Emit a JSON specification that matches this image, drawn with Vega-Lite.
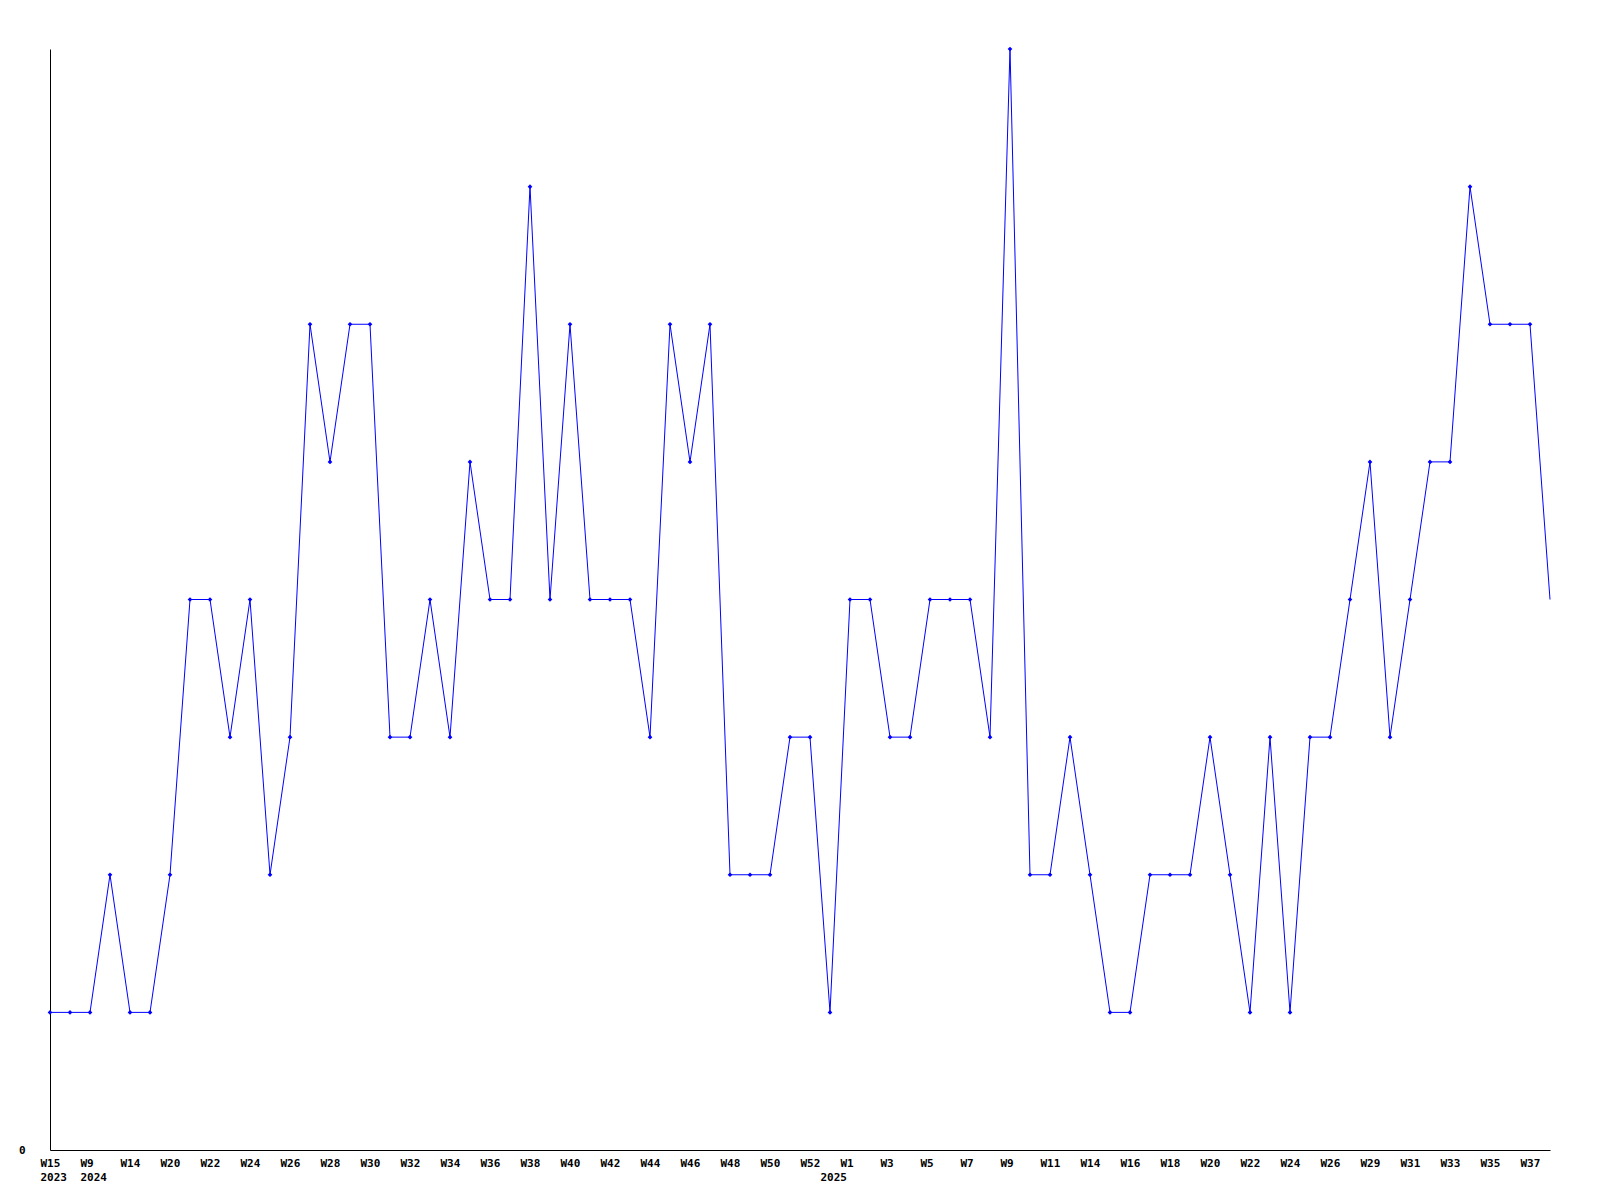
{
  "$schema": "https://vega.github.io/schema/vega-lite/v6.json",
  "autosize": {"type": "none"},
  "padding": {"left": 50, "top": 49, "right": 50, "bottom": 50},
  "width": 1500,
  "height": 1101,
  "background": "white",
  "config": {
    "view": {"stroke": null},
    "axis": {"labelFont": "DejaVu Sans Mono", "labelFontWeight": "bold", "labelFontSize": 11, "labelColor": "black", "domainColor": "black", "domainWidth": 1, "grid": false, "ticks": false}
  },
  "data": {"values": [
    {"k": "2023 W15", "v": 1}, {"k": "2023 W16", "v": 1}, {"k": "2024 W9", "v": 1}, {"k": "2024 W11", "v": 2},
    {"k": "2024 W14", "v": 1}, {"k": "2024 W17", "v": 1}, {"k": "2024 W20", "v": 2}, {"k": "2024 W21", "v": 4},
    {"k": "2024 W22", "v": 4}, {"k": "2024 W23", "v": 3}, {"k": "2024 W24", "v": 4}, {"k": "2024 W25", "v": 2},
    {"k": "2024 W26", "v": 3}, {"k": "2024 W27", "v": 6}, {"k": "2024 W28", "v": 5}, {"k": "2024 W29", "v": 6},
    {"k": "2024 W30", "v": 6}, {"k": "2024 W31", "v": 3}, {"k": "2024 W32", "v": 3}, {"k": "2024 W33", "v": 4},
    {"k": "2024 W34", "v": 3}, {"k": "2024 W35", "v": 5}, {"k": "2024 W36", "v": 4}, {"k": "2024 W37", "v": 4},
    {"k": "2024 W38", "v": 7}, {"k": "2024 W39", "v": 4}, {"k": "2024 W40", "v": 6}, {"k": "2024 W41", "v": 4},
    {"k": "2024 W42", "v": 4}, {"k": "2024 W43", "v": 4}, {"k": "2024 W44", "v": 3}, {"k": "2024 W45", "v": 6},
    {"k": "2024 W46", "v": 5}, {"k": "2024 W47", "v": 6}, {"k": "2024 W48", "v": 2}, {"k": "2024 W49", "v": 2},
    {"k": "2024 W50", "v": 2}, {"k": "2024 W51", "v": 3}, {"k": "2024 W52", "v": 3}, {"k": "2025 W0", "v": 1},
    {"k": "2025 W1", "v": 4}, {"k": "2025 W2", "v": 4}, {"k": "2025 W3", "v": 3}, {"k": "2025 W4", "v": 3},
    {"k": "2025 W5", "v": 4}, {"k": "2025 W6", "v": 4}, {"k": "2025 W7", "v": 4}, {"k": "2025 W8", "v": 3},
    {"k": "2025 W9", "v": 8}, {"k": "2025 W10", "v": 2}, {"k": "2025 W11", "v": 2}, {"k": "2025 W12", "v": 3},
    {"k": "2025 W14", "v": 2}, {"k": "2025 W15", "v": 1}, {"k": "2025 W16", "v": 1}, {"k": "2025 W17", "v": 2},
    {"k": "2025 W18", "v": 2}, {"k": "2025 W19", "v": 2}, {"k": "2025 W20", "v": 3}, {"k": "2025 W21", "v": 2},
    {"k": "2025 W22", "v": 1}, {"k": "2025 W23", "v": 3}, {"k": "2025 W24", "v": 1}, {"k": "2025 W25", "v": 3},
    {"k": "2025 W26", "v": 3}, {"k": "2025 W27", "v": 4}, {"k": "2025 W29", "v": 5}, {"k": "2025 W30", "v": 3},
    {"k": "2025 W31", "v": 4}, {"k": "2025 W32", "v": 5}, {"k": "2025 W33", "v": 5}, {"k": "2025 W34", "v": 7},
    {"k": "2025 W35", "v": 6}, {"k": "2025 W36", "v": 6}, {"k": "2025 W37", "v": 6}, {"k": "2025 W38", "v": 4}
  ]},
  "encoding": {
    "x": {
      "field": "k", "type": "ordinal", "sort": null,
      "scale": {"type": "point", "padding": 0},
      "axis": {
        "title": null, "labelAngle": 0, "labelOverlap": false, "labelPadding": 7, "labelLineHeight": 14,
        "labelBaseline": "top", "labelAlign": "left", "labelOffset": -10,
        "values": ["2023 W15", "2024 W9", "2024 W14", "2024 W20", "2024 W22", "2024 W24", "2024 W26", "2024 W28", "2024 W30", "2024 W32", "2024 W34", "2024 W36", "2024 W38", "2024 W40", "2024 W42", "2024 W44", "2024 W46", "2024 W48", "2024 W50", "2024 W52", "2025 W0", "2025 W1", "2025 W3", "2025 W5", "2025 W7", "2025 W9", "2025 W11", "2025 W14", "2025 W16", "2025 W18", "2025 W20", "2025 W22", "2025 W24", "2025 W26", "2025 W29", "2025 W31", "2025 W33", "2025 W35", "2025 W37"],
        "labelExpr": "datum.label == '2025 W0' ? ['', '2025'] : indexof(['2023 W15','2024 W9'], datum.label) >= 0 ? [slice(datum.label, 5), slice(datum.label, 0, 4)] : slice(datum.label, 5)"
      }
    },
    "y": {
      "field": "v", "type": "quantitative",
      "scale": {"domain": [0, 8], "nice": false, "zero": true},
      "axis": {"title": null, "values": [0], "labelPadding": 25}
    }
  },
  "layer": [
    {"mark": {"type": "line", "color": "#0000ff", "strokeWidth": 1, "clip": false}},
    {"transform": [{"filter": "datum.k != '2025 W38'"}],
     "mark": {"type": "point", "shape": "diamond", "filled": true, "color": "#0000ff", "size": 22, "opacity": 1}}
  ]
}
